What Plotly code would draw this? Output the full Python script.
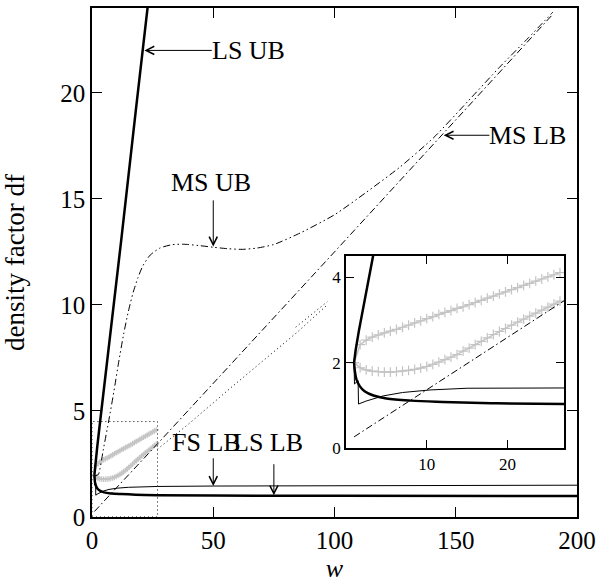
import plotly.graph_objects as go

# ---------------- data ----------------
ls_ub_w = [1.0, 1.2, 1.6, 2.2, 3.4, 6.0, 12.0, 18.0, 23.5]
ls_ub_y = [2.0, 2.3, 2.75, 3.35, 4.55, 7.2, 13.0, 19.1, 24.6]

ls_lb_w = [1.0, 1.1, 1.3, 1.7, 2.3, 3.4, 5.0, 8.0, 12.0, 18.0, 27.0, 50.0, 100.0, 200.0]
ls_lb_y = [2.0, 1.8, 1.6, 1.45, 1.33, 1.23, 1.16, 1.11, 1.08, 1.05, 1.03, 1.01, 1.0, 0.99]

fs_lb_w = [1.0, 1.05, 1.5, 1.55, 2.5, 4.6, 7.0, 10.4, 15.0, 20.0, 27.0, 50.0, 100.0, 150.0, 200.0]
fs_lb_y = [2.0, 1.5, 1.58, 1.03, 1.1, 1.22, 1.3, 1.36, 1.40, 1.42, 1.44, 1.46, 1.48, 1.49, 1.5]

ms_ub_w = [1.0, 1.5, 2.6, 4.7, 7.0, 9.0, 11.0, 13.0, 15.0, 17.0, 19.0, 21.0, 24.0, 28.0, 33.0,
           38.0, 44.0, 50.0, 56.0, 62.0, 68.0, 75.0, 86.0, 100.0, 113.0, 127.0, 141.0, 155.0,
           168.0, 180.0, 190.0]
ms_ub_y = [2.0, 1.95, 2.0, 3.2, 4.6, 5.9, 7.3, 8.6, 9.7, 10.6, 11.3, 11.85, 12.35, 12.68, 12.84,
           12.86, 12.8, 12.72, 12.65, 12.62, 12.68, 12.85, 13.4, 14.25, 15.3, 16.5, 17.9, 19.6,
           21.2, 22.6, 23.8]

ms_lb_w = [1.0, 27.0, 100.0, 190.0]
ms_lb_y = [0.26, 3.45, 12.5, 23.7]

dot_w = [27.0, 40.0, 57.0, 71.0, 85.0, 97.0]
dot_y = [3.2, 4.4, 6.07, 7.4, 8.75, 10.0]
dot2_w = [84.0, 97.0]
dot2_y = [8.95, 10.15]

gray_w = [1.0, 1.75, 2.5, 3.25, 4.0, 4.75, 5.5, 6.25, 7.0, 7.75, 8.5, 9.25, 10.0, 10.75, 11.5,
          12.25, 13.0, 13.75, 14.5, 15.25, 16.0, 16.75, 17.5, 18.25, 19.0, 19.75, 20.5, 21.25,
          22.0, 22.75, 23.5, 24.25, 25.0, 25.75, 26.5]
gray_up_y = [2.00, 2.42, 2.53, 2.60, 2.65, 2.70, 2.74, 2.78, 2.83, 2.88, 2.93, 2.98, 3.03, 3.08,
             3.13, 3.18, 3.22, 3.27, 3.31, 3.36, 3.41, 3.46, 3.51, 3.56, 3.61, 3.66, 3.71, 3.76,
             3.81, 3.86, 3.91, 3.96, 4.01, 4.06, 4.11]
gray_lo_y = [2.00, 1.88, 1.83, 1.80, 1.79, 1.78, 1.78, 1.79, 1.80, 1.82, 1.84, 1.87, 1.91, 1.96,
             2.01, 2.07, 2.13, 2.19, 2.27, 2.34, 2.42, 2.50, 2.58, 2.66, 2.73, 2.80, 2.88, 2.95,
             3.02, 3.09, 3.16, 3.23, 3.30, 3.37, 3.44]

main_x_ticks = [0, 50, 100, 150, 200]
main_y_ticks = [0, 5, 10, 15, 20]
inset_x_ticks = [10, 20]
inset_y_ticks = [0, 2, 4]
MAIN_X_RANGE = [0, 200]
MAIN_Y_RANGE = [0, 24]
INSET_X_RANGE = [0, 27]
INSET_Y_RANGE = [0, 4.5]

# labels: (text, text_w, text_y, anchor, arrow_tail_w, arrow_tail_y, head_w, head_y)
labels = [
    ("LS UB", 49.0, 22.0, "left", 50.0, 22.0, 21.6, 22.0),
    ("MS UB", 49.0, 15.75, "center", 50.0, 15.0, 50.0, 12.75),
    ("MS LB", 163.5, 18.0, "left", 164.5, 18.0, 145.0, 18.0),
    ("FS LB", 32.4, 3.5, "left", 50.0, 2.84, 50.0, 1.46),
    ("LS LB", 57.8, 3.5, "left", 75.0, 2.56, 75.0, 1.02),
]

FONT = "Liberation Serif"
GRAY = "#c4c4c4"
DASHDOTDOT = "7px,3px,1.5px,3px,1.5px,3px"
DASHDOT = "7px,3px,1.5px,3px"
DOTS = "1px,3px"

fig = go.Figure()


def add_all(inset):
    sfx = "" if not inset else "2"
    xr = "x" + sfx
    yr = "y" + sfx
    msize = 7 if inset else 4
    for gy in (gray_up_y, gray_lo_y):
        fig.add_trace(go.Scatter(x=gray_w, y=gy, mode="lines+markers", xaxis=xr, yaxis=yr,
                                 line=dict(color=GRAY, width=1.5),
                                 marker=dict(symbol="cross-thin", size=msize,
                                             line=dict(color=GRAY, width=1.2)),
                                 showlegend=False, hoverinfo="skip"))
    if not inset:
        fig.add_trace(go.Scatter(x=ms_ub_w, y=ms_ub_y, mode="lines", xaxis=xr, yaxis=yr,
                                 line=dict(color="black", width=1, dash=DASHDOTDOT,
                                           shape="spline", smoothing=0.6),
                                 showlegend=False, hoverinfo="skip"))
        fig.add_trace(go.Scatter(x=dot_w, y=dot_y, mode="lines", xaxis=xr, yaxis=yr,
                                 line=dict(color="black", width=1, dash=DOTS),
                                 showlegend=False, hoverinfo="skip"))
        fig.add_trace(go.Scatter(x=dot2_w, y=dot2_y, mode="lines", xaxis=xr, yaxis=yr,
                                 line=dict(color="black", width=1, dash=DOTS),
                                 showlegend=False, hoverinfo="skip"))
    fig.add_trace(go.Scatter(x=ms_lb_w, y=ms_lb_y, mode="lines", xaxis=xr, yaxis=yr,
                             line=dict(color="black", width=1, dash=DASHDOT),
                             showlegend=False, hoverinfo="skip"))
    fig.add_trace(go.Scatter(x=fs_lb_w, y=fs_lb_y, mode="lines", xaxis=xr, yaxis=yr,
                             line=dict(color="black", width=1),
                             showlegend=False, hoverinfo="skip"))
    fig.add_trace(go.Scatter(x=ls_lb_w, y=ls_lb_y, mode="lines", xaxis=xr, yaxis=yr,
                             line=dict(color="black", width=2.5, shape="spline"),
                             showlegend=False, hoverinfo="skip"))
    fig.add_trace(go.Scatter(x=ls_ub_w, y=ls_ub_y, mode="lines", xaxis=xr, yaxis=yr,
                             line=dict(color="black", width=2.5),
                             showlegend=False, hoverinfo="skip"))


add_all(False)
add_all(True)

# zoom box
fig.add_shape(type="rect", xref="x", yref="y",
              x0=INSET_X_RANGE[0], x1=INSET_X_RANGE[1],
              y0=INSET_Y_RANGE[0], y1=INSET_Y_RANGE[1],
              line=dict(color="black", width=1, dash=DOTS))

for text, tw, ty, anc, aw, ay, hw, hy in labels:
    fig.add_annotation(x=hw, y=hy, ax=aw, ay=ay, xref="x", yref="y", axref="x", ayref="y",
                       text="", showarrow=True, arrowhead=5, arrowsize=1.6, arrowwidth=1,
                       arrowcolor="black", standoff=0, startstandoff=0)
    fig.add_annotation(x=tw, y=ty, xref="x", yref="y", text=text, showarrow=False,
                       xanchor=anc, yanchor="middle", borderpad=0,
                       font=dict(family=FONT, size=26, color="black"))

axis_common = dict(showgrid=False, zeroline=False, showline=True, linecolor="black",
                   linewidth=1.5, ticks="inside", mirror="ticks", tickcolor="black",
                   automargin=False)

fig.update_layout(
    template="none",
    width=602, height=586,
    margin=dict(l=92, r=25, t=8, b=69),
    paper_bgcolor="white", plot_bgcolor="white",
    font=dict(family=FONT, size=25, color="black"),
    showlegend=False,
    xaxis=dict(range=MAIN_X_RANGE, tickvals=main_x_ticks, ticklen=10, tickwidth=1,
               title=dict(text="<i>w</i>", standoff=0, font=dict(size=26)),
               tickfont=dict(size=25), **axis_common),
    yaxis=dict(range=MAIN_Y_RANGE, tickvals=main_y_ticks, ticklen=10, tickwidth=1,
               title=dict(text="density factor df", standoff=32, font=dict(size=27)),
               tickfont=dict(size=25), **axis_common),
    xaxis2=dict(domain=[0.5237, 0.9732], anchor="y2", range=INSET_X_RANGE,
                tickvals=inset_x_ticks, ticklen=8, tickwidth=1, tickfont=dict(size=17),
                **axis_common),
    yaxis2=dict(domain=[0.1356, 0.5128], anchor="x2", range=INSET_Y_RANGE,
                tickvals=inset_y_ticks, ticklen=8, tickwidth=1, tickfont=dict(size=17),
                **axis_common),
)

fig.write_html("out.html", config={"displayModeBar": False},
               post_script="document.body.style.margin='0';document.body.style.overflow='hidden';")
